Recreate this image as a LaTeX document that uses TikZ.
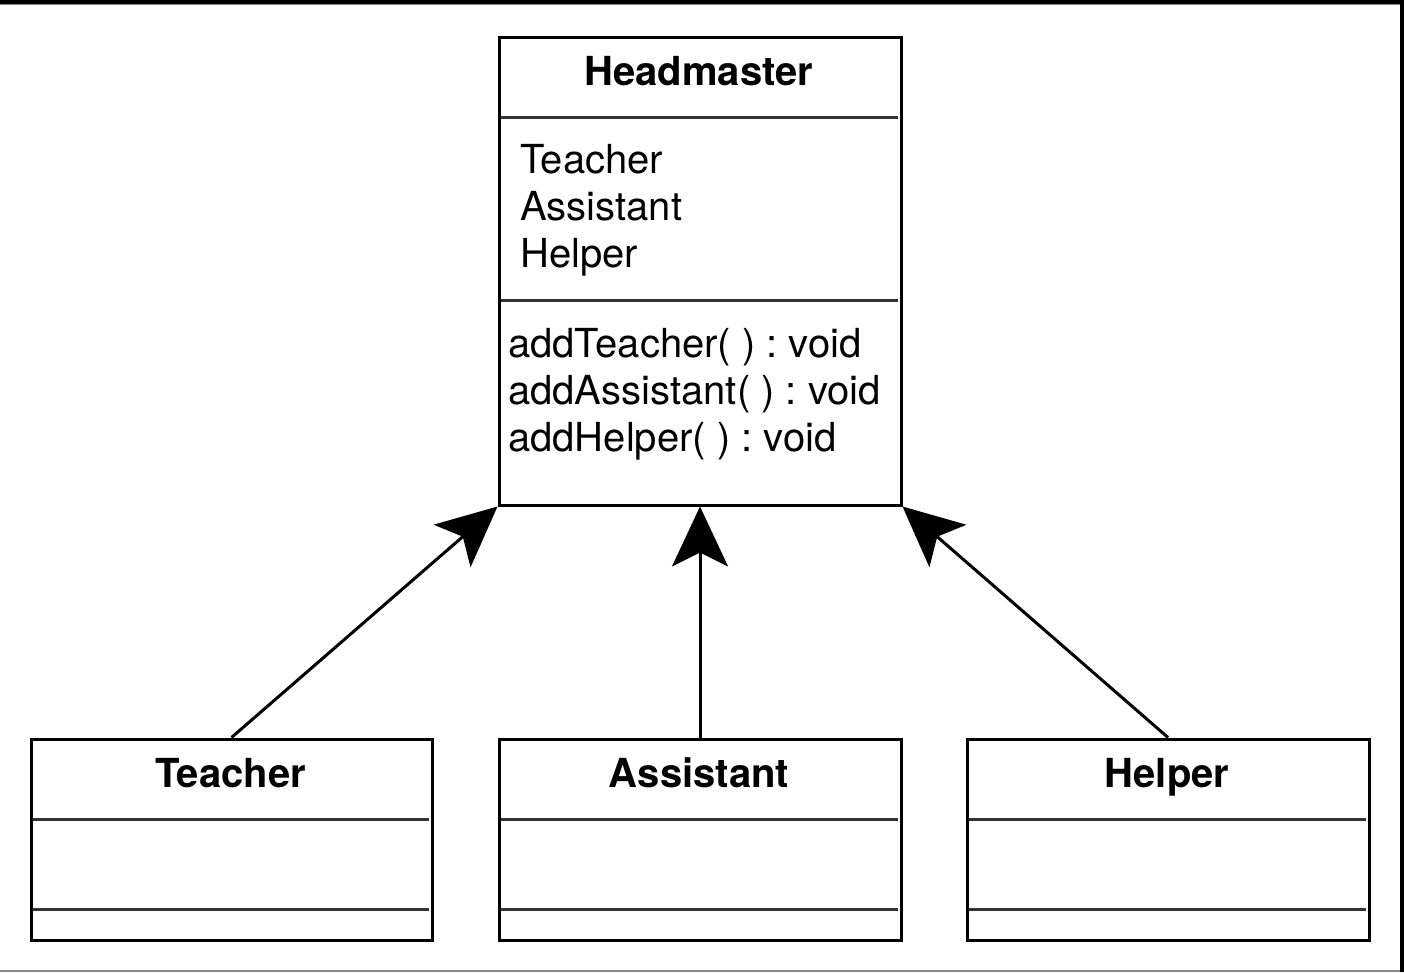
\documentclass[tikz,border=0pt]{standalone}
\usepackage{fontspec}
\setmainfont{TeX Gyre Heros}
\usetikzlibrary{arrows.meta}
\definecolor{divgray}{HTML}{333333}
\definecolor{framegray}{HTML}{8A8A8A}
\frenchspacing
\begin{document}
\begin{tikzpicture}[x=1pt,y=-1pt,
  classbox/.style={draw=black, line width=3pt, fill=white, inner sep=0pt, minimum width=402pt},
  divline/.style={draw=divgray, line width=3pt},
  conn/.style={draw=black, line width=3pt, -{Stealth[length=60pt, width=56pt, inset=14pt]}},
  title/.style={anchor=base, inner sep=0pt, font=\fontsize{40}{47}\selectfont\bfseries},
  member/.style={anchor=base west, inner sep=0pt, font=\fontsize{40}{47}\selectfont\frenchspacing}]
\useasboundingbox (0,0) rectangle (1404,972);
\fill[white] (0,0) rectangle (1404,972);
% frame
\fill[black] (0,0) rectangle (1404,4);
\draw[framegray, line width=1pt] (0,4.5) -- (1400,4.5);
\fill[black] (1400,0) rectangle (1404,972);
\draw[framegray, line width=2pt] (0,970.5) -- (1400,970.5);
% Headmaster
\node[classbox, minimum height=468pt] (hm) at (700,271) {};
\draw[divline] (500.5,117) -- (898,117);
\draw[divline] (500.5,300) -- (898,300);
\node[title] (hmt) at (699,85) {Headmaster};
\node[member] (hma1) at (520,173) {Teacher};
\node[member] (hma2) at (520,220) {Assistant};
\node[member] (hma3) at (520,267) {Helper};
\node[member] (hmm1) at (508,357) {addTeacher( ) : void};
\node[member] (hmm2) at (508,404) {addAssistant( ) : void};
\node[member] (hmm3) at (508,451) {addHelper( ) : void};
% subclasses
\node[classbox, minimum width=401pt, minimum height=201pt] (t) at (231.5,839.5) {};
\draw[divline] (32.5,819) -- (429,819);
\draw[divline] (32.5,909) -- (429,909);
\node[title] (tt) at (230.5,787) {Teacher};
\node[classbox, minimum height=201pt] (a) at (700,839.5) {};
\draw[divline] (500.5,819) -- (898,819);
\draw[divline] (500.5,909) -- (898,909);
\node[title] (at) at (699,787) {Assistant};
\node[classbox, minimum height=201pt] (h) at (1168,839.5) {};
\draw[divline] (968.5,819) -- (1366,819);
\draw[divline] (968.5,909) -- (1366,909);
\node[title] (ht) at (1167,787) {Helper};
% connectors
\draw[conn] (t.north) -- (hm.south west);
\draw[conn] (a.north) -- (hm.south);
\draw[conn] (h.north) -- (hm.south east);
\end{tikzpicture}
\end{document}
